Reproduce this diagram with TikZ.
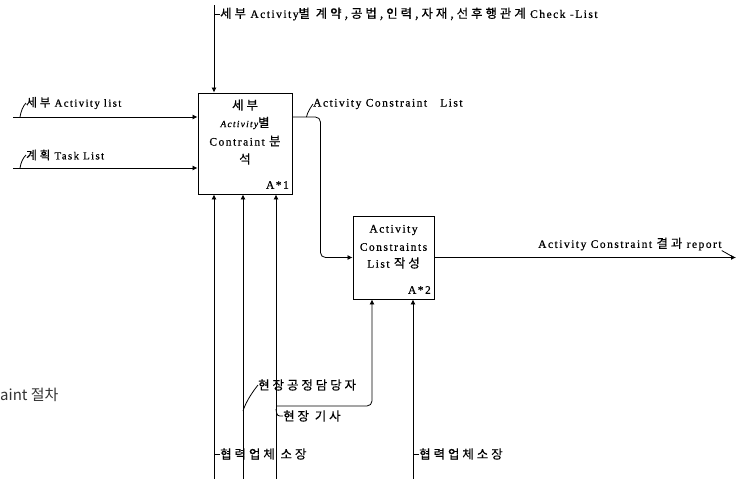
\documentclass[tikz,border=0pt]{standalone}
\usepackage{fontspec}
\setmainfont[LetterSpace=13,FakeBold=0.6]{Liberation Serif}
\newfontfamily\korfont[Scale=1.08,LetterSpace=24,FakeBold=0.6]{Noto Sans CJK KR}
\newfontfamily\sidefont{Noto Sans CJK KR}
\newcommand\kor[1]{{\korfont #1}}
\newcommand\lblsize{\fontsize{11.5}{14}\selectfont}
\newcommand\inlblsize{\fontsize{10.8}{12}\selectfont}
\usetikzlibrary{arrows.meta}

\tikzset{
  box/.style={draw, line width=0.9pt, inner sep=0pt},
  wire/.style={line width=0.8pt},
  flow/.style={wire, -{Latex[length=5pt,width=5pt]}},
  txt/.style={font=\lblsize, inner sep=0pt},
  lbl/.style={txt, anchor=west},
  inlbl/.style={lbl, font=\inlblsize},
}

\begin{document}
\begin{tikzpicture}[x=1pt,y=-1pt]
\useasboundingbox (0,0) rectangle (737,479);

% activity boxes
\node[box, minimum width=94pt, minimum height=101pt] (b1) at (245,143.5) {};
\node[box, minimum width=81pt, minimum height=83pt] (b2) at (393.5,257.5) {};

% box 1 text
\node[txt] (b1a) at (245,105) {\kor{세부}};
\node[txt] (b1b) at (245,123) {{\fontsize{9.5}{11}\selectfont\itshape Activity}\kor{별}};
\node[txt] (b1c) at (245,141) {Contraint \kor{분}};
\node[txt] (b1d) at (245,159) {\kor{석}};
\node[txt, anchor=east] (b1n) at (289,185) {A*1};

% box 2 text
\node[txt] (b2a) at (393.5,230) {Activity};
\node[txt] (b2b) at (393.5,247) {Constraints};
\node[txt] (b2c) at (393.5,263) {List \kor{작성}};
\node[txt, anchor=east] (b2n) at (431,290) {A*2};

% control from above
\coordinate (c1) at (214,5);
\draw[flow] (c1) -- (c1 |- b1.north);
\node[lbl] (c1l) at (220,14) {\kor{세부} Activity\kor{별 계약,공법,인력,자재,선후행관계} Check -List};
\draw[wire] (c1l.west) -- ++(-6,0);

% inputs
\coordinate (i1) at (13,117);
\coordinate (i2) at (13,168);
\draw[flow] (i1) -- (i1 -| b1.west);
\draw[flow] (i2) -- (i2 -| b1.west);
\node[inlbl] (i1l) at (26,103) {\kor{세부} Activity list};
\node[inlbl] (i2l) at (26,155) {\kor{계획} Task List};
\draw[wire] ([xshift=7pt]i1) .. controls +(1,-6) and +(-3,3) .. (i1l.west);
\draw[wire] ([xshift=7pt]i2) .. controls +(1,-6) and +(-3,3) .. (i2l.west);

% output of box 1 into box 2
\coordinate (o1) at (b1.east |- i1);
\draw[flow, rounded corners=5pt] (o1) -- ++(28,0) |- (b2.west);
\node[lbl] (o1l) at (313,104) {Activity Constraint\ \ \ List};
\draw[wire] ([xshift=14pt]o1) .. controls +(1,-5) and +(-2,3) .. (o1l.west);

% output of box 2
\coordinate (o2) at (736,257.5);
\draw[flow] (b2.east) -- (o2);
\node[lbl] (o2l) at (538,244) {Activity Constraint \kor{결과} report};
\draw[wire] (o2l.south east) -- ([xshift=-2pt]o2);

% mechanisms
\coordinate (m1) at (214,479);
\coordinate (m2) at (243,479);
\coordinate (m3) at (276,479);
\coordinate (m4) at (413,479);
\draw[flow] (m1) -- (m1 |- b1.south);
\draw[flow] (m2) -- (m2 |- b1.south);
\draw[flow] (m3) -- (m3 |- b1.south);
\draw[flow] (m4) -- (m4 |- b2.south);
\coordinate (m3b) at (276,406);
\draw[flow, rounded corners=5pt] (m3b) -| ([xshift=-21.5pt]b2.south);

\node[lbl] (m1l) at (220,454) {\kor{협력업체 소장}};
\draw[wire] (m1l.west) -- ++(-6,0);
\node[lbl] (m2l) at (258,385) {\kor{현장공정담당자}};
\coordinate (m2k) at (243,411);
\draw[wire] (m2k) .. controls +(3,-10) and +(-4,5) .. (m2l.west);
\node[lbl] (m3l) at (283,416) {\kor{현장 기사}};
\draw[wire] ([yshift=-3pt]m3b) .. controls +(1,7) .. (m3l.west);
\node[lbl] (m4l) at (419,454) {\kor{협력업체소장}};
\draw[wire] (m4l.west) -- ++(-6,0);

% caption fragment at the left edge
\node[anchor=west, inner sep=0pt, font=\sidefont\fontsize{15}{17}\selectfont, text=black!80] (side) at (0,395) {aint 절차};
\end{tikzpicture}
\end{document}
